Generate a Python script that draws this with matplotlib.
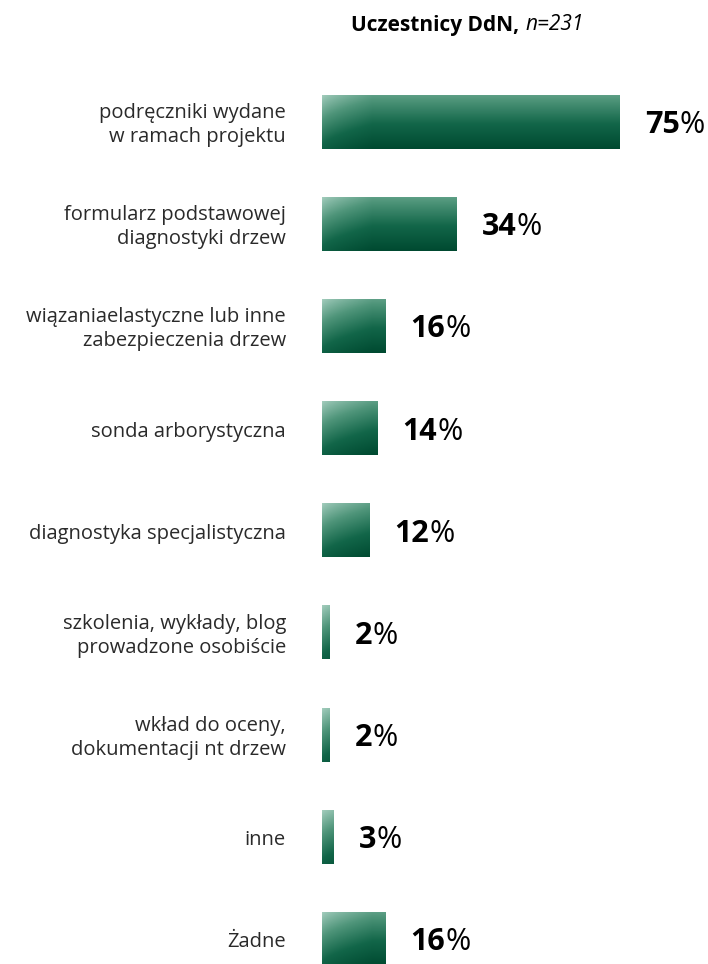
import numpy as np
import matplotlib
matplotlib.use("Agg")
import matplotlib.pyplot as plt
from matplotlib.colors import LinearSegmentedColormap

# data
categories = [
    "podręczniki wydane\nw ramach projektu",
    "formularz podstawowej\ndiagnostyki drzew",
    "wiązaniaelastyczne lub inne\nzabezpieczenia drzew",
    "sonda arborystyczna",
    "diagnostyka specjalistyczna",
    "szkolenia, wykłady, blog\nprowadzone osobiście",
    "wkład do oceny,\ndokumentacji nt drzew",
    "inne",
    "Żadne",
]
values = [75, 34, 16, 14, 12, 2, 2, 3, 16]
title_bold = "Uczestnicy DdN,"
title_italic = "n=231"

plt.rcParams['font.family'] = ['Open Sans', 'DejaVu Sans']

W, H, DPI = 708, 964, 100
fig = plt.figure(figsize=(W / DPI, H / DPI), dpi=DPI)

px_per_unit = 3.97
x0_px = 322
top_px = 122 - 102.25 * 0.7
ax = fig.add_axes([x0_px / W, 0, (W - x0_px) / W, 1 - top_px / H])
ax.axis('off')

green = LinearSegmentedColormap.from_list(
    'ddn', ['#a3cdbd', '#4f957a', '#126649', '#004a31'])

bar_h = 0.52
bar_px = 53
for i, v in enumerate(values):
    wpx = max(int(round(v * px_per_unit)), 2)
    u = np.arange(wpx)[None, :]
    vv = np.linspace(0, 1, bar_px)[:, None]
    f = 0.72 * vv + 0.28 * np.clip(u / 50.0, 0, 1) ** 0.7
    ax.imshow(f, cmap=green, vmin=0, vmax=1, aspect='auto', origin='upper',
              extent=(0, v, i + bar_h / 2, i - bar_h / 2),
              interpolation='bilinear')
    t = ax.annotate(str(v), xy=(v, i), xytext=(25, -3), textcoords='offset pixels',
                    ha='left', va='center', fontsize=22, fontweight='bold',
                    color='black')
    ax.annotate('%', xy=(1, 0), xycoords=t, ha='left', va='bottom',
                fontsize=22, color='black')
    ax.annotate(categories[i], xy=(0, i), xytext=(-36, -3),
                textcoords='offset pixels', ha='right', va='center',
                fontsize=14.5, color='#2a2a2a', linespacing=1.25)

ax.set_xlim(0, (W - x0_px) / px_per_unit)
ax.set_ylim(8.24, -0.7)

fig.text(519 / W, 1 - 25 / H, title_bold, ha='right', va='center',
         fontsize=15, fontweight='bold', color='black')
fig.text(525 / W, 1 - 25 / H, title_italic, ha='left', va='center',
         fontsize=15, style='italic', color='black')

fig.savefig('out.png', dpi=DPI)
